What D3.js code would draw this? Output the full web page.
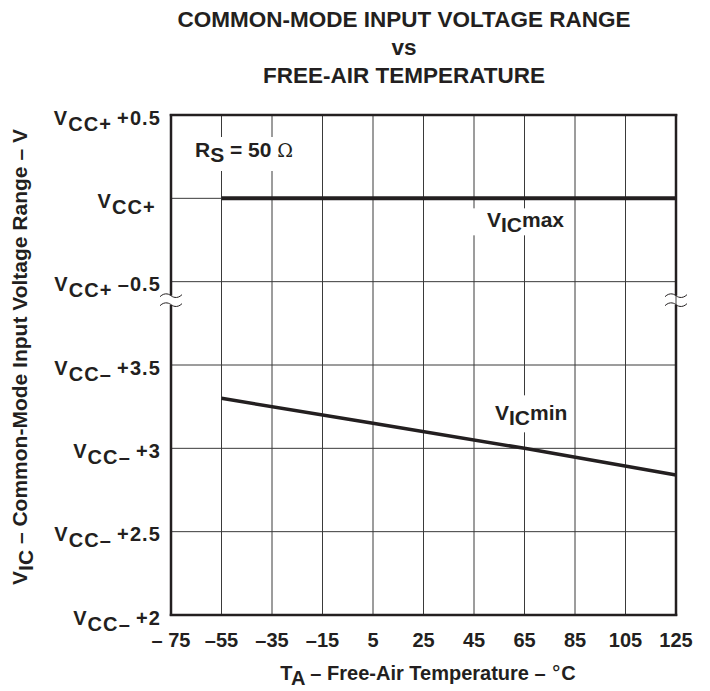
<!DOCTYPE html>
<html>
<head>
<meta charset="utf-8">
<title>Common-Mode Input Voltage Range vs Free-Air Temperature</title>
<script src="https://cdn.jsdelivr.net/npm/d3@7"></script>
<style>
    body { margin: 0; background: #fff; }
    svg text { font-family: "Liberation Sans", Arial, sans-serif; font-weight: bold; fill: #231f20; }
</style>
</head>
<body>
<div id="chart"></div>
<script>
// temperatures (x ticks) and their labels
const tempTicks = [-75, -55, -35, -15, 5, 25, 45, 65, 85, 105, 125];
const tempLabels = ["– 75", "–55", "–35", "–15", "5", "25", "45", "65", "85", "105", "125"];

// upper part of the broken y axis: volts relative to VCC+
const upperTicks = [0.5, 0, -0.5];
const upperRail = ["CC+", "CC+", "CC+"];
const upperOffset = ["+0.5", "", "–0.5"];
// lower part: volts relative to VCC-
const lowerTicks = [3.5, 3, 2.5, 2];
const lowerRail = ["CC–", "CC–", "CC–", "CC–"];
const lowerOffset = ["+3.5", "+3", "+2.5", "+2"];

// VICmax (relative to VCC+) and VICmin (relative to VCC-)
const vicMaxTemp = [-55, 125];
const vicMaxVolt = [0, 0];
const vicMinTemp = [-55, 5, 65, 125];
const vicMinVolt = [3.3, 3.15, 3.0, 2.84];

const W = 710, H = 691;
const margin = {top: 115, left: 171},
    width = 505,
    height = 500,
    row = height / 6;

const svg = d3.select("#chart").append("svg")
    .attr("width", W)
    .attr("height", H);

const g = svg.append("g")
    .attr("transform", "translate(" + margin.left + "," + margin.top + ")");

const x = d3.scaleLinear().domain([-75, 125]).range([0, width]);
const yUp = d3.scaleLinear().domain([-0.5, 0.5]).range([2 * row, 0]);
const yLo = d3.scaleLinear().domain([2, 3.5]).range([height, 3 * row]);

// grid
g.append("g").selectAll("line")
    .data(tempTicks.slice(1))
    .enter().append("line")
    .attr("x1", d => x(d)).attr("x2", d => x(d))
    .attr("y1", 0).attr("y2", height)
    .attr("stroke", "#3a3a3a").attr("stroke-width", 1);

const hGrid = upperTicks.slice(1).map(d => yUp(d)).concat(lowerTicks.slice(0, -1).map(d => yLo(d)));
g.append("g").selectAll("line")
    .data(hGrid)
    .enter().append("line")
    .attr("x1", 0).attr("x2", width)
    .attr("y1", d => d).attr("y2", d => d)
    .attr("stroke", "#3a3a3a").attr("stroke-width", 1);

// curves
const lineUp = d3.line().x(d => x(d[0])).y(d => yUp(d[1]));
const lineLo = d3.line().x(d => x(d[0])).y(d => yLo(d[1]));

g.append("path")
    .datum(d3.zip(vicMaxTemp, vicMaxVolt))
    .attr("d", lineUp)
    .attr("fill", "none").attr("stroke", "#231f20").attr("stroke-width", 4);

g.append("path")
    .datum(d3.zip(vicMinTemp, vicMinVolt))
    .attr("d", lineLo)
    .attr("fill", "none").attr("stroke", "#231f20").attr("stroke-width", 3.5);

// frame with axis break
const brk = yUp(-0.5) + 18;
[0, width].forEach(xx => {
    g.append("line").attr("x1", xx).attr("x2", xx).attr("y1", -1).attr("y2", brk - 4)
        .attr("stroke", "#231f20").attr("stroke-width", 2.5);
    g.append("line").attr("x1", xx).attr("x2", xx).attr("y1", brk + 5).attr("y2", height + 1)
        .attr("stroke", "#231f20").attr("stroke-width", 2.5);
    [brk - 4, brk + 5].forEach(yy => {
        g.append("path")
            .attr("d", `M${xx - 11},${yy + 1} C${xx - 6},${yy - 4} ${xx - 1},${yy - 1} ${xx},${yy} S${xx + 6},${yy + 4} ${xx + 11},${yy - 1}`)
            .attr("fill", "none").attr("stroke", "#231f20").attr("stroke-width", 1);
    });
});
g.append("line").attr("x1", -1.25).attr("x2", width + 1.25).attr("y1", 0).attr("y2", 0)
    .attr("stroke", "#231f20").attr("stroke-width", 2.5);
g.append("line").attr("x1", -1.25).attr("x2", width + 1.25).attr("y1", height).attr("y2", height)
    .attr("stroke", "#231f20").attr("stroke-width", 2.5);

// y tick labels
function vLabel(sel, yy, rail, off) {
    const t = sel.append("text")
        .attr("x", -10).attr("y", yy + 9.5)
        .attr("text-anchor", "end")
        .style("font-size", "20px")
        .style("letter-spacing", "1.1px");
    t.append("tspan").text("V");
    t.append("tspan").attr("dy", 6).style("font-size", "20px").text(rail);
    t.append("tspan").attr("dy", -6).text(off ? "\u2009" + off : "\u2009");
}
upperTicks.forEach((d, i) => vLabel(g, yUp(d), upperRail[i], upperOffset[i]));
lowerTicks.forEach((d, i) => vLabel(g, yLo(d), lowerRail[i], lowerOffset[i]));

// x tick labels
g.append("g").selectAll("text")
    .data(tempTicks)
    .enter().append("text")
    .attr("x", d => x(d))
    .attr("y", height + 32)
    .attr("text-anchor", "middle")
    .style("font-size", "20px")
    .text((d, i) => tempLabels[i]);

// in-plot labels on white boxes
function boxLabel(bx, by, bw, bh, tx, ty, main, sub, rest) {
    g.append("rect").attr("x", bx).attr("y", by).attr("width", bw).attr("height", bh).attr("fill", "#fff");
    const t = g.append("text").attr("x", tx).attr("y", ty).style("font-size", "21px");
    t.append("tspan").text(main);
    t.append("tspan").attr("dy", 5).text(sub);
    t.append("tspan").attr("dy", -5).text(rest);
    return t;
}
const rs = boxLabel(16, 22, 114, 34, 24, 42, "R", "S", " = 50 ");
rs.append("tspan").style("font-weight", "normal").style("font-family", "'DejaVu Serif', serif").style("font-size", "19px").text("Ω");
boxLabel(x(45) - 8, yUp(0) + 10, 104, 27, x(45) + 13, yUp(0) + 29, "V", "IC", "max");
boxLabel(x(65) - 36, yLo(3) - 53, 84, 37, x(65) - 29.5, yLo(3) - 28, "V", "IC", "min");

// titles
const title = ["COMMON-MODE INPUT VOLTAGE RANGE", "vs", "FREE-AIR TEMPERATURE"];
svg.selectAll(".title")
    .data(title)
    .enter().append("text")
    .attr("x", 404)
    .attr("y", (d, i) => 27 + i * 28)
    .attr("text-anchor", "middle")
    .style("font-size", "22.5px")
    .text(d => d);

// axis titles
const xt = svg.append("text")
    .attr("x", 428).attr("y", 680)
    .attr("text-anchor", "middle")
    .style("font-size", "20px");
xt.append("tspan").text("T");
xt.append("tspan").attr("dy", 5).text("A");
xt.append("tspan").attr("dy", -5).text(" – Free-Air Temperature – ");
xt.append("tspan").style("font-weight", "normal").style("font-family", "'DejaVu Serif', serif").text("°");
xt.append("tspan").text("C");

const yt = svg.append("text")
    .attr("transform", "translate(27,357) rotate(-90)")
    .attr("text-anchor", "middle")
    .style("font-size", "21px");
yt.append("tspan").text("V");
yt.append("tspan").attr("dy", 6).text("IC");
yt.append("tspan").attr("dy", -6).text(" – Common-Mode Input Voltage Range – V");
</script>
</body>
</html>
